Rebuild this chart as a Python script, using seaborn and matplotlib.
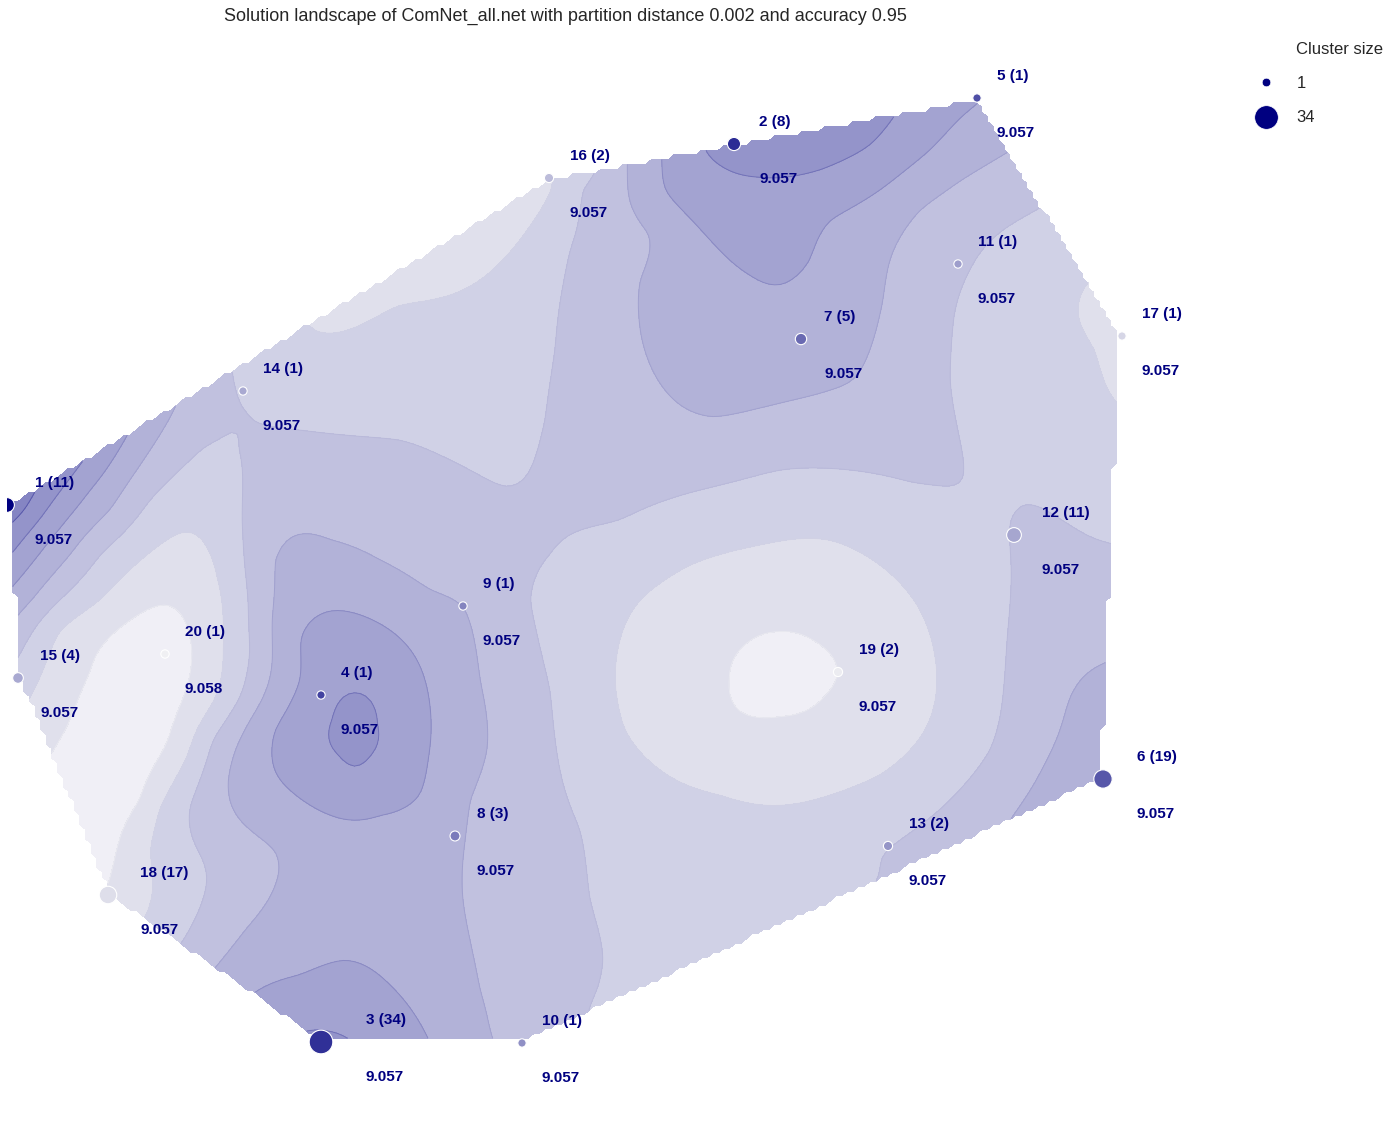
import numpy as np
import pandas as pd
import matplotlib
matplotlib.use("Agg")
import matplotlib.pyplot as plt
from matplotlib.lines import Line2D
from matplotlib.path import Path
import seaborn as sns

sns.set_style("white")
plt.rcParams["font.family"] = ["Liberation Sans", "DejaVu Sans"]

TITLE = "Solution landscape of ComNet_all.net with partition distance 0.002 and accuracy 0.95"

cluster_id = list(range(1, 21))
cluster_x = [7, 734, 321, 321, 977, 1103, 801, 455, 463, 522, 958, 1014, 888, 243, 18, 549, 1122, 108, 838, 165]
cluster_y = [505, 144, 1042, 695, 98, 779, 339, 836, 606, 1043, 264, 535, 846, 391, 678, 178, 336, 895, 672, 654]
cluster_size = [11, 8, 34, 1, 1, 19, 5, 3, 1, 1, 1, 11, 2, 1, 4, 2, 1, 17, 2, 1]
cluster_value = ["9.057"] * 19 + ["9.058"]
cluster_shade = [1.0, .82, .80, .72, .67, .64, .56, .49, .45, .40, .34, .31, .38, .30, .30, .22, .11, .08, .02, 0.0]
hull_order = [1, 16, 5, 17, 6, 10, 3, 18, 15]

band_colors = ["#f0eff6", "#e0e0ec", "#d0d1e6", "#c1c1df", "#b2b2d8", "#a3a3d1", "#9494ca", "#8585c3"]

# samples of the landscape: (x, y) read along each iso-level of the picture
iso_1 = [(52,753),(67,727),(90,673),(117,630),(143,612),(165,605),(180,613),(192,650),(188,683),(167,743),(140,800),(117,850),(107,887),
         (730,680),(745,645),(780,632),(815,642),(838,672),(825,695),(780,716),(740,712)]
iso_2 = [(30,697),(60,630),(100,600),(133,567),(167,540),(183,532),(200,537),(213,560),(222,600),(223,650),(213,703),(187,757),(160,807),(150,850),(153,883),(145,917),
         (620,640),(640,600),(690,565),(760,545),(830,540),(880,565),(920,610),(937,680),(925,730),(880,775),(800,803),(720,795),(660,770),(625,730),(615,680),
         (1087,283),(1078,315),(1095,350),(1118,405),
         (310,328),(400,305),(480,280),(520,240),(552,190)]
iso_3 = [(18,658),(60,600),(100,555),(150,500),(200,450),(231,429),(238,450),(242,520),(248,600),(250,650),(240,697),(213,740),(190,807),(203,860),(207,877),(180,945),
         (232,372),(237,395),(250,412),(300,430),(400,440),(470,470),(505,487),(530,470),(545,420),(555,350),(570,250),(582,190),(597,170),
         (1040,208),(1003,230),(970,270),(955,310),(950,380),(963,470),(950,487),(910,482),(850,470),(780,470),(700,490),(620,520),(550,555),(530,600),(550,690),(560,770),(580,830),(590,900),(603,960),(597,990),(587,1015),
         (880,875),(882,855),(900,840),(950,800),(990,750),(1000,717),(1007,640),(1010,547),(1017,513),(1028,503),(1043,508),(1067,523),(1093,538),(1112,544)]
iso_4 = [(32,600),(70,555),(110,510),(150,450),(177,403),
         (275,560),(290,538),(330,540),(380,560),(430,590),(463,606),(480,680),(487,750),(470,800),(463,860),(468,930),(480,990),(492,1038),
         (272,620),(250,720),(228,780),(240,820),(275,850),(275,885),(245,930),(215,968),
         (627,165),(628,190),(650,235),(640,280),(642,340),(665,390),(712,417),(760,408),(793,400),(830,390),(853,380),(867,357),(883,300),(890,260),(920,210),(960,181),(1008,152),
         (1107,662),(1083,677),(1070,697),(1060,730),(1043,767),(1010,820)]
iso_5 = [(12,587),(50,540),(90,490),(128,434),
         (662,158),(665,190),(710,240),(750,275),(780,285),(810,260),(830,220),(880,190),(930,150),(960,118),(978,103),
         (300,640),(320,615),(350,612),(390,630),(425,680),(428,760),(420,795),(380,815),(330,815),(290,790),(272,750),(275,730),(300,680),
         (255,992),(300,975),(345,960),(390,985),(415,1015),(428,1038)]
iso_6 = [(12,553),(50,505),(83,461),
         (705,150),(720,165),(760,177),(820,170),(870,145),(895,115),
         (333,720),(340,700),(355,693),(370,700),(376,725),(370,755),(355,768),(340,755),
         (307,1031),(327,1032),(347,1038)]
iso_7 = [(12,522),(35,491)]
extrema = [(130,720,0.4),(780,675,0.6),(358,730,6.5),(770,140,6.5),(325,1040,6.2),(8,505,8.0),(535,1000,3.6)]


def thin_plate(px, py, pz, qx, qy, smooth=1.5e-4):
    """Thin-plate interpolation of the samples onto the query points."""
    px, py, qx, qy = [np.asarray(a, float) / 1000 for a in (px, py, qx, qy)]
    def kernel(ax, ay, bx, by):
        r2 = (ax[:, None] - bx[None]) ** 2 + (ay[:, None] - by[None]) ** 2
        return 0.5 * r2 * np.log(r2 + 1e-12)
    n = len(px)
    P = np.column_stack([np.ones(n), px, py])
    A = np.block([[kernel(px, py, px, py) + smooth * np.eye(n), P], [P.T, np.zeros((3, 3))]])
    w = np.linalg.solve(A, np.r_[pz, np.zeros(3)])
    Q = np.column_stack([np.ones(len(qx)), qx, qy])
    return kernel(qx, qy, px, py) @ w[:n] + Q @ w[n:]


samples = []
for level, iso in enumerate([iso_1, iso_2, iso_3, iso_4, iso_5, iso_6, iso_7], start=1):
    samples += [(x, y, level) for x, y in iso]
samples += extrema
sx, sy, sz = np.array(samples, float).T

gx, gy = np.meshgrid(np.linspace(7, 1122, 200), np.linspace(98, 1043, 200))
field = thin_plate(sx, sy, sz, gx.ravel(), gy.ravel()).reshape(gx.shape)

df = pd.DataFrame({"id": cluster_id, "x": cluster_x, "y": cluster_y, "size": cluster_size,
                   "value": cluster_value, "shade": cluster_shade})
hull = df.set_index("id").loc[hull_order, ["x", "y"]].to_numpy(float)
inside = Path(hull).contains_points(np.column_stack([gx.ravel(), gy.ravel()])).reshape(gx.shape)
field = np.ma.masked_where(~inside, field)

fig = plt.figure(figsize=(13.96, 11.21), dpi=100)
ax = fig.add_axes([7 / 1396, 0, 1 - 7 / 1396, 1])
levels = [-50, 1, 2, 3, 4, 5, 6, 7, 50]
ax.contourf(gx, gy, field, levels=levels, colors=band_colors, corner_mask=True, zorder=1)
navy_map = sns.light_palette("navy", as_cmap=True)
ax.contour(gx, gy, field, levels=levels[1:-1], colors=[navy_map(k / 8) for k in range(7)],
           linewidths=0.7, alpha=0.6, corner_mask=True, zorder=2)

sns.scatterplot(data=df, x="x", y="y", hue="shade", size="size", ax=ax, palette=navy_map, hue_norm=(0, 1),
                sizes=(36, 290), size_norm=(1, 34), edgecolor="white", linewidth=0.8, legend=False, zorder=3)

for row in df.itertuples():
    tx = row.x + 19.24 + 0.757 * row.size
    ax.text(tx, row.y - 22, f"{row.id} ({row.size})", color="navy", fontsize=11, fontweight="bold",
            va="center", ha="left", zorder=4)
    ax.text(tx, row.y + 35, row.value, color="navy", fontsize=11, fontweight="bold",
            va="center", ha="left", zorder=4)

ax.set_xlim(7, 1396)
ax.set_ylim(1121, 0)
ax.set_axis_off()

title = ax.set_title(TITLE, fontsize=13, color="#262626", va="center", y=1 - 16 / 1121, pad=0)
title.set_x((565.5 - 7) / 1389)

handles = [Line2D([], [], linestyle="none"),
           Line2D([], [], linestyle="none", marker="o", color="navy", markeredgecolor="white", markeredgewidth=0.5, markersize=6.2),
           Line2D([], [], linestyle="none", marker="o", color="navy", markeredgecolor="white", markeredgewidth=0.5, markersize=17)]
ax.legend(handles, ["Cluster size", "1", "34"], loc="upper left", bbox_to_anchor=(1249.7, 42),
          bbox_transform=ax.transData, frameon=False, fontsize=12, labelspacing=1.15, borderaxespad=0,
          borderpad=0, handletextpad=0.8, handlelength=2.0, labelcolor="#262626")

fig.savefig("out.png", dpi=100)
